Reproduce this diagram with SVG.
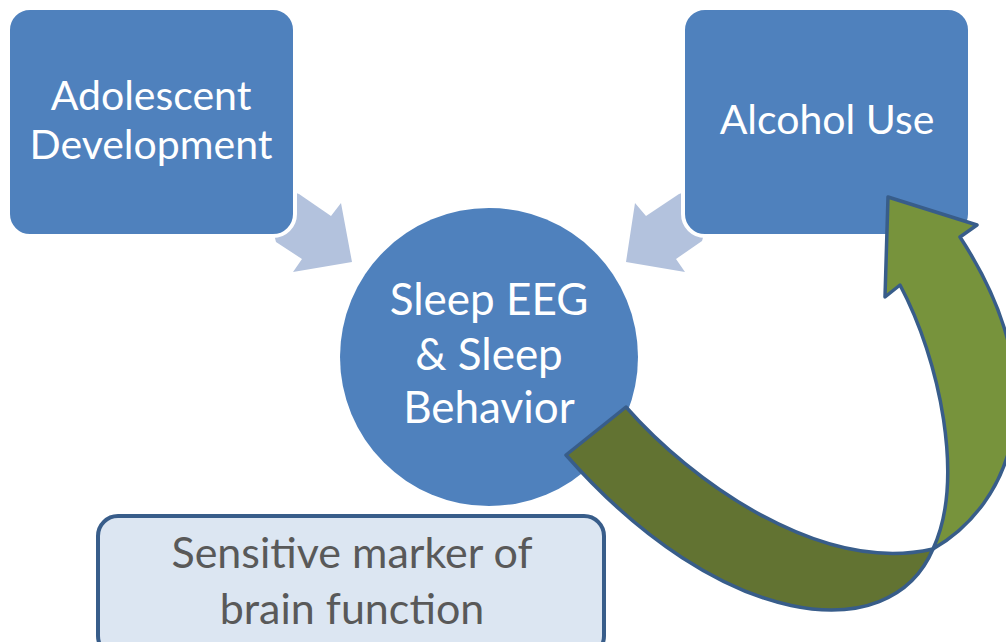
<svg xmlns="http://www.w3.org/2000/svg" width="1006" height="642" viewBox="0 0 1006 642">
<style>
.box{fill:#4f81bd;stroke:#ffffff;stroke-width:4}
.lt{fill:#b3c2dd}
.wt{fill:#ffffff;font-family:Lato,"Open Sans",sans-serif;font-size:41px;text-anchor:middle}
.ct{font-size:44px}
.gt{fill:#595959;font-family:Lato,"Open Sans",sans-serif;font-size:43px;text-anchor:middle}
.g{stroke:#385d8a;stroke-width:3.5;stroke-linejoin:round}
</style>
<rect width="1006" height="642" fill="#ffffff"/>
<g id="connectors">
<polygon class="lt" points="352,262 341,203 331,216 299,194 260,180 276,242 302,259 293,272"/>
<polygon class="lt" points="626,262 635,203 646,216 679,194 720,180 702,241 676,259 685,272"/>
</g>
<g id="adolescent">
<rect class="box" x="8" y="8" width="287" height="228" rx="22"/>
<text class="wt" x="151" y="110">Adolescent</text>
<text class="wt" x="151" y="159">Development</text>
</g>
<g id="alcohol">
<rect class="box" x="683" y="8" width="287" height="228" rx="22"/>
<text class="wt" x="827" y="134">Alcohol Use</text>
</g>
<g id="sleep">
<circle cx="489" cy="357" r="149" fill="#4f81bd"/>
<text class="wt ct" x="489" y="315">Sleep EEG</text>
<text class="wt ct" x="489" y="370">&amp; Sleep</text>
<text class="wt ct" x="489" y="423">Behavior</text>
</g>
<g id="marker">
<rect x="98" y="516" width="506" height="140" rx="20" fill="#dce6f2" stroke="#385d8a" stroke-width="4"/>
<text class="gt" x="352" y="568">Sensitive marker of</text>
<text class="gt" x="352" y="624">brain function</text>
</g>
<g id="feedback">
<path class="g" fill="#627332" d="M566,455 L626,407 C690,480 820,575 933,549 C890,650 720,630 566,455 Z"/>
<path class="g" fill="#77933c" d="M900,285 C940,360 965,480 933,549 C1010,505 1060,390 960,237 L977,225 L888,197 L885,297 Z"/>
</g>
</svg>
